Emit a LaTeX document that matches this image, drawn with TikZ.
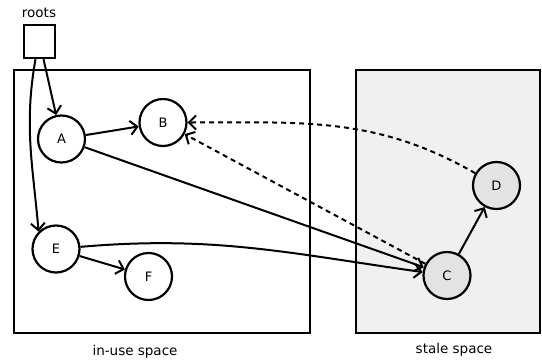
\documentclass[tikz,border=0pt]{standalone}
\usepackage{fontspec}
\setmainfont{DejaVu Sans}
\usetikzlibrary{arrows.meta}
\begin{document}
\begin{tikzpicture}[x=1pt,y=-1pt,
  obj/.style={circle,draw,line width=2.2pt,minimum size=47pt,inner sep=0pt,font=\fontsize{13}{15}\selectfont},
  stale/.style={obj,fill=black!11},
  ref/.style={line width=2pt,-{Straight Barb[length=7pt,width=14pt,line width=2pt]}},
  weak/.style={ref,dash pattern=on 5pt off 4pt},
  area/.style={draw,line width=2.2pt},
  caption/.style={font=\fontsize{13.5}{16}\selectfont}]
\useasboundingbox (0,0) rectangle (542,362);
% memory spaces
\draw[area] (14,70) rectangle (310,333);
\draw[area,fill=black!6] (356,70) rectangle (540,333);
\node[caption] (inuse) at (135,352) {in-use space};
\node[caption] (stalelbl) at (454,350) {stale space};
% root set
\node[draw,line width=2.2pt,minimum width=31pt,minimum height=33pt,inner sep=0pt] (roots) at (39.5,41.5) {};
\node[caption] (rootslbl) at (39,13) {roots};
% objects
\node[obj] (A) at (61.5,139) {A};
\node[obj] (B) at (163,122.5) {B};
\node[obj] (E) at (56,249) {E};
\node[obj] (F) at (148.5,276.5) {F};
\node[stale] (C) at (447,275.5) {C};
\node[stale] (D) at (496.5,185.5) {D};
% references
\draw[ref] ([xshift=4pt]roots.south) -- (A);
\draw[ref] ([xshift=-4pt]roots.south) to[out=-100,in=95] (E.north west);
\draw[ref] (A) -- (B);
\draw[ref] (A) -- (C);
\draw[ref] (E) to[out=5,in=172] (C);
\draw[ref] (E) -- (F);
\draw[ref] (C) -- (D);
\draw[weak] (D) to[out=150,in=0] (B);
\draw[weak] (C) -- (B);
\end{tikzpicture}
\end{document}
